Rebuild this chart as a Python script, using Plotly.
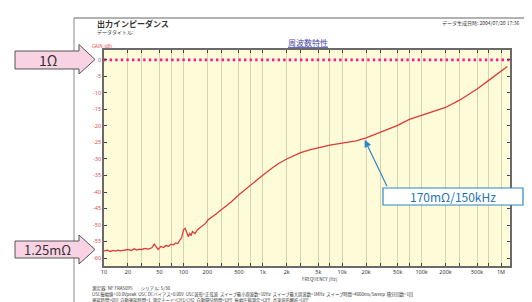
import plotly.graph_objects as go

# ---------------- data ----------------
freq_hz = [10, 11, 12, 13, 14, 15, 16, 18, 20, 22, 24, 26, 28, 30, 33, 36, 40, 43, 45, 48,
           52, 56, 60, 65, 70, 75, 80, 85, 90, 95, 100, 105, 110, 115, 120, 125, 130, 140,
           150, 160, 175, 190, 205, 230, 260, 300, 350, 400, 500, 600, 700, 850, 1000,
           1300, 1600, 2000, 2500, 3000, 4000, 5000, 7000, 10000, 15000, 20000, 30000,
           50000, 70000, 100000, 150000, 200000, 300000, 500000, 700000, 1000000, 1200000]
gain_db = [-57.8, -57.6, -58.0, -57.7, -57.9, -57.6, -57.8, -57.5, -57.4, -57.7, -57.2, -57.6,
           -57.3, -57.4, -57.1, -57.3, -56.9, -55.8, -56.6, -57.4, -56.5, -56.8, -56.2, -56.4,
           -55.8, -56.0, -55.4, -55.6, -54.6, -53.8, -51.5, -51.0, -52.2, -53.5, -52.6, -53.2,
           -52.0, -52.6, -51.4, -50.8, -50.2, -49.5, -48.4, -47.6, -46.6, -45.4, -44.2, -43.0,
           -40.8, -39.2, -37.8, -36.2, -34.9, -32.8, -31.3, -30.0, -28.9, -28.1, -27.2, -26.6,
           -25.8, -25.2, -24.5, -23.6, -22.0, -19.8, -18.0, -16.7, -15.4, -14.4, -12.2, -8.8,
           -6.2, -3.4, -2.0]

ref_freq = [10, 1300000]
ref_gain = [0, 0]

grid_vals = [10, 20, 30, 50, 70, 100, 200, 300, 500, 700, 1000, 2000, 3000, 5000, 7000,
             10000, 20000, 30000, 50000, 70000, 100000, 200000, 300000, 500000, 700000, 1000000]
grid_text = ["10", "20", "", "50", "", "100", "200", "", "500", "", "1k", "2k", "", "5k", "",
             "10k", "20k", "", "50k", "", "100k", "200k", "", "500k", "", "1M"]
y_ticks = [0, -5, -10, -15, -20, -25, -30, -35, -40, -45, -50, -55, -60]

# ---------------- layout helpers ----------------
W, H = 532, 302
L, R, T, B = 96, 30, 42, 44
PW, PH = W - L - R, H - T - B


def px(x):
    return (x - L) / PW


def py(y):
    return (H - B - y) / PH


fig = go.Figure()
fig.add_trace(go.Scatter(x=ref_freq, y=ref_gain, mode="lines",
                         line=dict(color="#ff1493", width=2.6, dash="2.4px,3.2px"),
                         hoverinfo="skip"))
fig.add_trace(go.Scatter(x=freq_hz, y=gain_db, mode="lines",
                         line=dict(color="#dd3a3a", width=1.3), hoverinfo="skip"))

fig.update_xaxes(type="log", range=[1, 6.113], tickvals=grid_vals, ticktext=grid_text,
                 showgrid=True, gridcolor="#d6d3b0", gridwidth=1,
                 showline=True, linecolor="#6a6a6a", linewidth=1.5, mirror="ticks",
                 ticks="inside", ticklen=3, tickcolor="#444",
                 tickfont=dict(size=5.5, color="#333", family="Noto Sans"), zeroline=False)
fig.update_yaxes(range=[-62.4, 3], tickvals=y_ticks, ticktext=[str(v) for v in y_ticks],
                 showgrid=False, showline=True, linecolor="#6a6a6a", linewidth=1.5,
                 mirror="ticks", ticks="inside", ticklen=3, tickcolor="#444",
                 tickfont=dict(size=5.5, color="#e04848", family="Noto Sans"), zeroline=False)

shapes = []
# outer panel frame
shapes.append(dict(type="line", xref="paper", yref="paper", x0=px(66), x1=px(66),
                   y0=py(10), y1=py(302), line=dict(color="#888", width=1)))
shapes.append(dict(type="line", xref="paper", yref="paper", x0=px(66), x1=px(532),
                   y0=py(10), y1=py(10), line=dict(color="#666", width=1.2)))


def block_arrow(y0, y1, hy0, hy1, tipy):
    pts = [(7, y0), (71, y0), (71, hy0), (87, tipy), (71, hy1), (71, y1), (7, y1)]
    d = "M " + " L ".join(f"{px(a):.5f},{py(b):.5f}" for a, b in pts) + " Z"
    return dict(type="path", xref="paper", yref="paper", path=d,
                fillcolor="#f9d3e3", line=dict(color="#555", width=1))


shapes.append(block_arrow(43, 61, 36.5, 66, 51.5))
shapes.append(block_arrow(233, 250, 227, 256, 241.5))
# callout box
shapes.append(dict(type="rect", xref="paper", yref="paper", x0=px(375), x1=px(515),
                   y0=py(180), y1=py(197), fillcolor="white",
                   line=dict(color="#2f86c8", width=1.2)))

ann = []


def txt(x, y, s, size, color="#333", xanchor="left", family="Noto Sans CJK JP"):
    ann.append(dict(xref="paper", yref="paper", x=px(x), y=py(y), text=s, showarrow=False,
                    xanchor=xanchor, yanchor="middle",
                    font=dict(size=size, color=color, family=family)))


txt(40, 52, "1Ω", 14, "#333", "center")
txt(39, 241.5, "1.25mΩ", 13, "#333", "center")
txt(445, 188.5, "170mΩ/150kHz", 12, "#1f73b7", "center")
txt(87, 16, "<b>出力インピーダンス</b>", 8, "#333")
txt(87, 24, "データタイトル:", 5, "#333")
txt(432, 15, "データ生成日時: 2004/07/20 17:36", 5, "#333")
txt(300, 34, "<u>周波数特性</u>", 8, "#4a4aa8", "center")
txt(82, 38, "GAIN [dB]", 4.5, "#e04848")
txt(312, 271, "FREQUENCY [Hz]", 4.5, "#333", "center")
txt(82, 280, "測定器: NF FRA5095        シリアル: 5/30", 4.5, "#333")
txt(82, 286, "OSC振幅値=10.0Vpeak  OSC DCバイアス=0.00V  OSC波形=正弦波  スイープ最小周波数=10Hz  "
             "スイープ最大周波数=1MHz  スイープ時間=4000ms/Sweep  積分回数=1回", 4.3, "#333")
txt(82, 292, "遅延時間=0回  自動遅延時間=1  測定モード=CH1/CH2  自動積分時間=OFF  "
             "振幅圧縮測定=OFF  高速波形解析=OFF", 4.3, "#333")

# blue arrow to the curve
ann.append(dict(x=4.283, y=-24.2, xref="x", yref="y", text="", showarrow=True,
                ax=23, ay=48, axref="pixel", ayref="pixel",
                arrowhead=2, arrowsize=1.2, arrowwidth=1.2, arrowcolor="#2f86c8"))

fig.update_layout(width=W, height=H, margin=dict(l=L, r=R, t=T, b=B),
                  paper_bgcolor="white", plot_bgcolor="#fdfbd8", showlegend=False,
                  shapes=shapes, annotations=ann)

fig.write_html("out.html")
